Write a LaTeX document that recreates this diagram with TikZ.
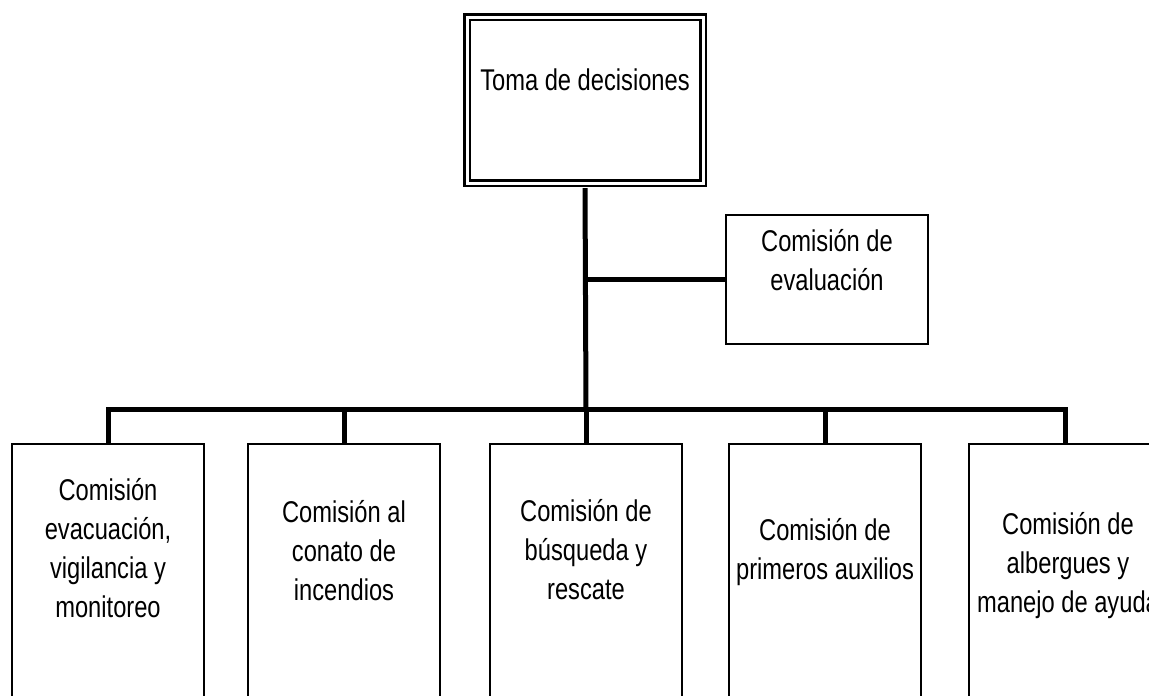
\documentclass[tikz,border=0pt]{standalone}
\usepackage{fontspec}
\setmainfont{Liberation Sans}[FakeStretch=0.79]
\usepackage{tikz}
\usetikzlibrary{positioning}

\begin{document}
\begin{tikzpicture}[x=1pt, y=-1pt,
  caja/.style={rectangle, draw, line width=1.6pt, minimum width=192, minimum height=290, anchor=north},
  texto/.style={align=center, inner sep=0pt, font=\fontsize{30}{39}\selectfont},
  rama/.style={line width=5pt}]
  \useasboundingbox (0,0) rectangle (1149,696);

  % Top: decision box (double frame)
  \node[rectangle, draw, double, line width=2.3pt, double distance=3pt,
        minimum width=236, minimum height=166] (decision) at (585,100) {};
  \node[texto] (tdecision) at (585,80) {Toma de decisiones};

  % Side: evaluation box
  \node[rectangle, draw, line width=1.6pt, minimum width=202, minimum height=129] (evaluacion) at (827,279.5) {};
  \node[texto] (tevaluacion) at (827,260) {Comisión de\\evaluación};

  % Bottom row: five commissions
  \node[caja] (c1) at (108,443) {};
  \node[caja] (c2) at (344,443) {};
  \node[caja] (c3) at (586,443) {};
  \node[caja] (c4) at (825,443) {};
  \node[caja] (c5) at (1065,443) {};

  \node[texto] (t1) at (108,548) {Comisión\\evacuación,\\vigilancia y\\monitoreo};
  \node[texto] (t2) at (344,551) {Comisión al\\conato de\\incendios};
  \node[texto] (t3) at (586,550) {Comisión de\\búsqueda y\\rescate};
  \node[texto] (t4) at (825,552) {Comisión de\\primeros auxilios};
  \node[texto] (t5) at (1068,566) {Comisión de\\albergues y\\manejo de ayuda};

  % Connectors
  \coordinate (barra) at (586,409);
  \draw[rama, shorten <=4pt] (decision.south) -- (barra);
  \draw[rama] (evaluacion.west) -- (evaluacion.west -| barra);
  \draw[rama] (c1.north) |- (barra) -| (c5.north);
  \draw[rama] (c2.north) -- (c2.north |- barra);
  \draw[rama] (c3.north) -- (c3.north |- barra);
  \draw[rama] (c4.north) -- (c4.north |- barra);
\end{tikzpicture}
\end{document}
